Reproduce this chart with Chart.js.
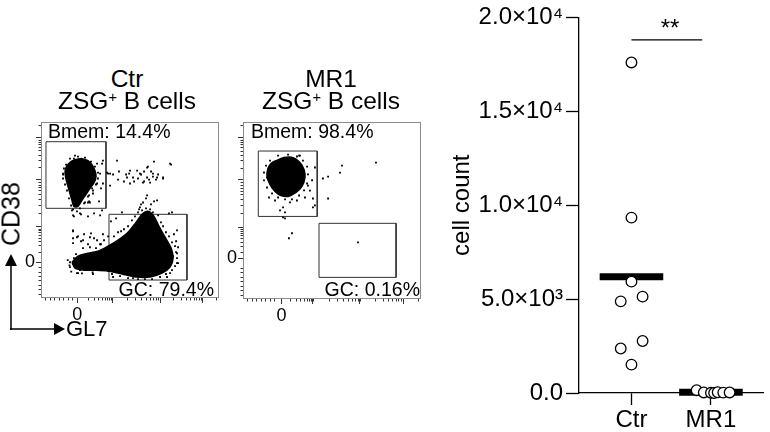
<!DOCTYPE html>
<html>
<head>
<meta charset="utf-8">
<title>ZSG+ B cells - Ctr vs MR1</title>
<script src="https://cdn.jsdelivr.net/npm/chart.js@4"></script>
<style>
  body { margin: 0; background: #fff; }
  #page { position: relative; width: 770px; height: 432px; overflow: hidden; background: #fff;
          font-family: "Liberation Sans", Arial, sans-serif; color: #000; }
  .box { position: absolute; }
  .lbl { position: absolute; white-space: nowrap; line-height: 1; transform: translate(-50%, -50%); }
  .lbl.left { transform: translate(0, -50%); }
  .lbl.right { transform: translate(-100%, -50%); }
  .title { font-size: 24.5px; }
  .gate { font-size: 19.5px; }
  .sup { font-size: 0.6em; position: relative; top: -0.5em; }
  svg { position: absolute; left: 0; top: 0; }
</style>
</head>
<body>
<div id="page">
  <div class="box" style="left:0;top:110px;width:230px;height:222px"><canvas id="ctrPlot"></canvas></div>
  <div class="box" style="left:202px;top:110px;width:230px;height:223px"><canvas id="mr1Plot"></canvas></div>
  <div class="box" style="left:440px;top:0;width:330px;height:432px"><canvas id="countPlot"></canvas></div>

  <div class="lbl title" style="left:127px;top:79px">Ctr</div>
  <div class="lbl title" style="left:127px;top:101px">ZSG<span class="sup">+</span> B cells</div>
  <div class="lbl title" style="left:331px;top:79px">MR1</div>
  <div class="lbl title" style="left:331px;top:101px">ZSG<span class="sup">+</span> B cells</div>

  <div class="lbl left gate" style="left:48px;top:132px">Bmem: 14.4%</div>
  <div class="lbl right gate" style="left:214px;top:290px">GC: 79.4%</div>
  <div class="lbl left gate" style="left:251px;top:132px">Bmem: 98.4%</div>
  <div class="lbl right gate" style="left:420px;top:290px">GC: 0.16%</div>

  <div class="lbl" style="left:11px;top:214px;font-size:25px;transform:translate(-50%,-50%) rotate(-90deg)">CD38</div>
  <div class="lbl left" style="left:66px;top:329px;font-size:22px">GL7</div>
  <div class="lbl" style="left:670px;top:28px;font-size:24px">**</div>

  <svg width="120" height="432">
    <line x1="11" y1="330" x2="11" y2="264" stroke="#000" stroke-width="1.5"/>
    <polygon points="5,266 17,266 11,254" fill="#000"/>
    <line x1="10" y1="329" x2="56" y2="329" stroke="#000" stroke-width="1.5"/>
    <polygon points="54,323 54,335 65,329" fill="#000"/>
  </svg>
</div>

<script>
  // ---- flow plots (channel units 0-1000 on both axes) ----
  // Ctr: outlines of the dense event cores
  const ctrBmemCore = [[191,785],[230,791],[264,780],[286,757],[303,723],[309,689],[298,655],[275,622],
    [253,588],[230,554],[208,520],[185,520],[174,554],[163,593],[152,633],[140,678],[135,718],[146,751],[169,774]];
  const ctrGcCore = [[174,203],[208,237],[264,254],[320,266],[377,294],[433,328],[489,373],[534,429],[568,475],
    [601,492],[635,463],[663,407],[697,345],[731,283],[742,226],[725,175],[680,141],[613,119],[534,119],[455,136],
    [377,153],[309,158],[242,158],[191,170]];
  // Ctr: single events outside the cores
  const ctrEvents = [[343,763],[348,780],[427,780],[388,706],[371,712],[500,723],[540,723],[483,684],[517,684],
    [556,706],[596,684],[629,706],[652,684],[686,684],[725,763],[388,638],[348,650],[596,740],[613,655],[573,655],
    [500,650],[731,757],[635,774],[601,746],[579,718],[618,718],[658,701],[686,678],[562,701],[545,678],[523,661],
    [579,661],[607,672],[629,689],[646,672],[590,565],[635,548],[562,531],[551,503],[618,531],[377,706],[405,701],
    [438,718],[433,672],[478,701],[466,661],[495,706],[337,622],[264,633],[292,593],[326,548],[270,548],[185,791],
    [124,701],[180,503],[174,497],[180,469],[219,480],[264,542],[343,497],[332,469],[180,384],[202,345],[236,328],
    [275,345],[315,328],[275,288],[236,283],[180,311],[596,582],[573,542],[652,554],[455,486],[556,514],[736,486],
    [764,384],[770,288],[764,254],[219,158],[202,141],[163,175],[315,158],[259,170],[405,119],[517,113],[725,141],
    [708,119],[764,198],[185,463],[225,475],[264,463],[298,480],[180,379],[208,350],[242,362],[281,367],[298,339],
    [348,362],[337,305],[264,305],[225,322],[180,339],[393,435],[422,452],[208,141],[225,170],[292,136],[377,153],
    [309,192],[197,209],[450,379],[433,322],[719,480],[747,362],[759,322],[770,198],[731,192],[646,153],[579,141],
    [691,153],[742,237],[124,706],[332,706],[315,650],[275,542],[247,542],[191,808],[315,763],[292,740],[287,622],
    [270,582],
    // fringe of the GC population
    [332,305],[354,328],[377,350],[410,350],[433,373],[466,390],[489,407],[511,441],[528,463],[545,486],[568,497],
    [590,509],[613,503],[629,486],[658,469],[674,429],[686,407],[702,373],[719,350],[736,316],[753,294],[759,260],
    [764,226],[753,181],[736,158],[702,136],[669,119],[624,107],[584,107],[545,107],[489,113],[444,124],[399,136],
    [354,158],[326,181],[303,203],[287,237],[309,283],[253,243],[230,226],[208,203],[185,226],[163,203],[242,181],
    [264,203],[197,249],[343,254],[160,185],[150,215],[170,150],[230,140],[290,145],
    // fringe of the Bmem population
    [129,735],[141,757],[163,791],[208,802],[247,797],[281,774],[303,746],[320,712],[320,678],[309,644],[292,610],
    [264,576],[242,537],[219,509],[202,492],[169,525],[157,565],[146,610],[135,644],[124,678]];
  const ctrBmemGate = [[28,887],[365,887],[365,509],[28,509]];
  const ctrGcGate = [[382,475],[820,475],[820,102],[382,102]];

  // MR1
  const mr1BmemCore = [[185,781],[230,798],[281,798],[320,770],[343,730],[348,685],[331,635],[298,601],
    [253,579],[213,584],[180,607],[152,646],[135,691],[140,736],[157,764]];
  const mr1Events = [[315,809],[275,792],[388,670],[365,640],[376,612],[393,567],[348,573],[303,556],[264,545],
    [225,517],[208,500],[236,489],[225,461],[236,455],[180,556],[146,573],[135,685],[393,517],[404,742],[404,528],
    [449,680],[478,691],[545,713],[556,753],[747,770],[478,567],[275,371],[258,343],[646,320],[225,781],[169,770],
    [152,725],[331,725],[320,809],
    [152,781],[197,809],[253,815],[303,804],[337,781],[360,747],[365,703],[360,652],[343,613],[315,584],[275,562],
    [236,562],[197,573],[163,596],[135,629],[118,669],[118,714],[129,753]];
  const mr1BmemGate = [[86,835],[417,835],[417,466],[86,466]];
  const mr1GcGate = [[427,427],[860,427],[860,122],[427,122]];

  // axis ticks (channel units); only the first major tick is labelled
  const ctrMajorTicks = [203, 403, 670, 910];
  const mr1MajorX = [217, 392, 657, 900];
  const mr1MajorY = [230, 404, 674, 910];
  const flowTickLabels = ['0', '', '', ''];
  const minorTicks = [25, 50, 75, 100, 125, 150, 175, 263, 298, 323, 343, 359, 372, 384, 394,
    483, 530, 564, 590, 611, 629, 644, 658, 742, 784, 814, 838, 857, 873, 887, 899, 982];

  // ---- cell count plot ----
  const groups = ['Ctr', 'MR1'];
  const ctrCounts = [17600, 9340, 5930, 4880, 5130, 2770, 2370, 1510];
  const ctrJitter = [0, 0, 0, -0.135, 0.14, 0.14, -0.135, 0];
  const mr1Counts = [150, 30, 10, 0, 40, 20, 30];
  const mr1Jitter = [-0.18, -0.09, 0, 0.04, 0.085, 0.155, 0.235];
  const countTicks = [0, 5000, 10000, 15000, 20000];
  const countTickLabels = ['0.0', '5.0×10³', '1.0×10⁴', '1.5×10⁴', '2.0×10⁴'];
  const sigLevel = 18800;
  const sigLabelSpan = [0, 0.89];

  const FONT = '"Liberation Sans", Arial, sans-serif';
  Chart.defaults.font.family = FONT;
  Chart.defaults.color = '#000';

  const pts = arr => arr.map(([x, y]) => ({ x, y }));
  const closed = arr => pts(arr.concat([arr[0]]));
  const mean = arr => arr.reduce((a, b) => a + b, 0) / arr.length;

  // frame and minor ticks for the flow plots
  const framePlugin = {
    id: 'frame',
    afterDatasetsDraw(chart, args, opts) {
      const { ctx, chartArea: a, scales: { x, y } } = chart;
      ctx.save();
      ctx.strokeStyle = '#8c8c8c';
      ctx.lineWidth = 1;
      ctx.strokeRect(Math.round(a.left) + 0.5, Math.round(a.top) + 0.5,
        Math.round(a.right - a.left) - 1, Math.round(a.bottom - a.top) - 1);
      ctx.strokeStyle = '#333';
      ctx.beginPath();
      opts.minor.forEach(v => {
        const px = Math.round(x.getPixelForValue(v)) + 0.5;
        ctx.moveTo(px, a.bottom);
        ctx.lineTo(px, a.bottom + 2.5);
        const py = Math.round(y.getPixelForValue(v)) + 0.5;
        ctx.moveTo(a.left, py);
        ctx.lineTo(a.left - 2.5, py);
      });
      ctx.stroke();
      ctx.restore();
    }
  };

  function flowAxis(majors, fit) {
    return {
      type: 'linear', min: 0, max: 1000,
      afterBuildTicks: s => { s.ticks = majors.map(v => ({ value: v })); },
      afterFit: fit,
      ticks: { autoSkip: false, maxRotation: 0, padding: 1, font: { size: 18 }, color: '#000',
        callback: (v, i) => flowTickLabels[i] },
      grid: { drawOnChartArea: false, tickLength: 5, color: '#333', tickWidth: 1 },
      border: { display: false }
    };
  }

  function flowPlot(id, cores, events, gates, xMajors, yMajors) {
    const datasets = [];
    cores.forEach(c => datasets.push({
      data: closed(c), showLine: true, fill: 'shape', tension: 0.3,
      backgroundColor: '#000', borderColor: '#000', borderWidth: 1.5, pointRadius: 0
    }));
    datasets.push({
      data: pts(events), pointStyle: 'rect', pointRadius: 1.3,
      backgroundColor: '#000', borderWidth: 0
    });
    gates.forEach(g => datasets.push({
      data: closed(g), showLine: true, fill: false,
      borderColor: '#333', borderWidth: 1, pointRadius: 0
    }));
    return new Chart(document.getElementById(id), {
      type: 'scatter',
      data: { datasets },
      plugins: [framePlugin],
      options: {
        responsive: true, maintainAspectRatio: false, animation: false, events: [],
        layout: { padding: { top: 11, right: 11, left: 0, bottom: 0 } },
        plugins: { legend: { display: false }, tooltip: { enabled: false }, frame: { minor: minorTicks } },
        scales: {
          x: flowAxis(xMajors, s => { s.height = 34; }),
          y: flowAxis(yMajors, s => { s.width = 41; })
        }
      }
    });
  }

  flowPlot('ctrPlot', [ctrBmemCore, ctrGcCore], ctrEvents, [ctrBmemGate, ctrGcGate],
    ctrMajorTicks, ctrMajorTicks);
  flowPlot('mr1Plot', [mr1BmemCore], mr1Events, [mr1BmemGate, mr1GcGate], mr1MajorX, mr1MajorY);

  // cell count dot plot with mean bars
  const meanBar = (m, cx) => [{ x: cx - 0.4, y: m }, { x: cx + 0.4, y: m }];
  new Chart(document.getElementById('countPlot'), {
    type: 'scatter',
    data: {
      datasets: [
        { label: 'Ctr', order: 0, clip: false,
          data: ctrCounts.map((v, i) => ({ x: 0 + ctrJitter[i], y: v })),
          pointRadius: 5.3, pointBackgroundColor: '#fff', pointBorderColor: '#000', pointBorderWidth: 1.3 },
        { label: 'MR1', order: 0, clip: false,
          data: mr1Counts.map((v, i) => ({ x: 1 + mr1Jitter[i], y: v })),
          pointRadius: 5.3, pointBackgroundColor: '#fff', pointBorderColor: '#000', pointBorderWidth: 1.3 },
        { label: 'Ctr mean', order: 1, clip: false, data: meanBar(mean(ctrCounts), 0), showLine: true,
          borderColor: '#000', borderWidth: 7, borderCapStyle: 'butt', pointRadius: 0 },
        { label: 'MR1 mean', order: 1, clip: false, data: meanBar(mean(mr1Counts), 1), showLine: true,
          borderColor: '#000', borderWidth: 7, borderCapStyle: 'butt', pointRadius: 0 },
        { label: 'significance', order: 2, clip: false,
          data: [{ x: sigLabelSpan[0], y: sigLevel }, { x: sigLabelSpan[1], y: sigLevel }], showLine: true,
          borderColor: '#000', borderWidth: 1.3, pointRadius: 0 }
      ]
    },
    options: {
      responsive: true, maintainAspectRatio: false, animation: false, events: [],
      layout: { padding: { top: 13, right: 0, left: 0, bottom: 0 } },
      plugins: { legend: { display: false }, tooltip: { enabled: false } },
      scales: {
        x: {
          type: 'linear', min: -0.66, max: 1.66,
          afterBuildTicks: s => { s.ticks = groups.map((g, i) => ({ value: i })); },
          afterFit: s => { s.height = 39; },
          ticks: { autoSkip: false, maxRotation: 0, padding: 1, font: { size: 24 }, color: '#000',
            callback: (v, i) => groups[i] },
          grid: { drawOnChartArea: false, tickLength: 12, color: '#000', tickWidth: 1.3 },
          border: { color: '#000', width: 1.3 }
        },
        y: {
          type: 'linear', min: 0, max: 20000,
          afterBuildTicks: s => { s.ticks = countTicks.map(v => ({ value: v })); },
          afterFit: s => { s.width = 139; },
          ticks: { autoSkip: false, padding: 3, font: { size: 24 }, color: '#000',
            callback: (v, i) => countTickLabels[i] },
          grid: { drawOnChartArea: false, tickLength: 13, color: '#000', tickWidth: 1.3 },
          border: { color: '#000', width: 1.3 },
          title: { display: true, text: 'cell count', font: { size: 24 }, color: '#000', padding: { top: 8, bottom: 0 } }
        }
      }
    }
  });
</script>
</body>
</html>
